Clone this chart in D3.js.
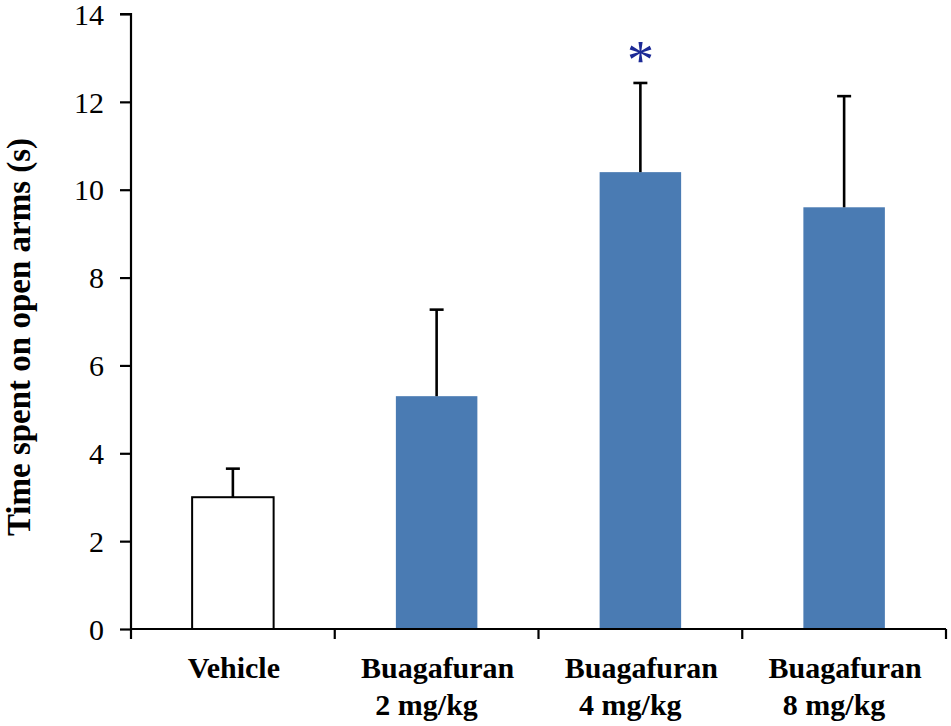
<!DOCTYPE html>
<html>
<head>
<meta charset="utf-8">
<script src="https://cdn.jsdelivr.net/npm/d3@7.9.0/dist/d3.min.js"></script>
<style>
  body { margin: 0; background: #fff; }
  svg { display: block; }
  text { font-family: "Liberation Serif", "Times New Roman", serif; fill: #000; }
</style>
</head>
<body>
<svg width="951" height="726"></svg>
<script>
// data
const groups = ["Vehicle", "Buagafuran 2 mg/kg", "Buagafuran 4 mg/kg", "Buagafuran 8 mg/kg"];
const labelLine1 = ["Vehicle", "Buagafuran", "Buagafuran", "Buagafuran"];
const labelLine2 = ["", "2 mg/kg", "4 mg/kg", "8 mg/kg"];
const means = [3.0, 5.3, 10.4, 9.6];
const errors = [0.65, 1.97, 2.03, 2.53];
const barFills = ["#ffffff", "#4a7bb3", "#4a7bb3", "#4a7bb3"];
const significant = [false, false, true, false];
const yTicks = [0, 2, 4, 6, 8, 10, 12, 14];

const svg = d3.select("svg");

const x = d3.scaleBand().domain(groups).range([131, 946]);
const y = d3.scaleLinear().domain([0, 14]).range([629, 14]);
const barW = x.bandwidth() * 0.4;

// bars
svg.append("g").selectAll("rect")
  .data(groups)
  .join("rect")
  .attr("x", d => x(d) + x.bandwidth() / 2 - barW / 2)
  .attr("y", (d, i) => y(means[i]))
  .attr("width", barW)
  .attr("height", (d, i) => y(0) - y(means[i]))
  .attr("fill", (d, i) => barFills[i])
  .attr("stroke", (d, i) => i === 0 ? "#000" : "none")
  .attr("stroke-width", 2);

// error bars (upper only)
const err = svg.append("g").attr("stroke", "#000").attr("stroke-width", 2.6);
groups.forEach((g, i) => {
  const cx = x(g) + x.bandwidth() / 2;
  err.append("line")
    .attr("x1", cx).attr("x2", cx)
    .attr("y1", y(means[i])).attr("y2", y(means[i] + errors[i]));
  err.append("line")
    .attr("x1", cx - 7).attr("x2", cx + 7)
    .attr("y1", y(means[i] + errors[i])).attr("y2", y(means[i] + errors[i]));
});

// significance star
svg.append("g").selectAll("text")
  .data(groups.filter((g, i) => significant[i]))
  .join("text")
  .attr("x", d => x(d) + x.bandwidth() / 2)
  .attr("y", d => y(means[groups.indexOf(d)] + errors[groups.indexOf(d)]) - 5)
  .attr("text-anchor", "middle")
  .style("font-size", "54px")
  .style("fill", "#1c2a96")
  .text("*");

// y axis
const yAxis = svg.append("g")
  .attr("transform", "translate(131,0)")
  .call(d3.axisLeft(y).tickValues(yTicks).tickSize(11).tickPadding(16));
yAxis.selectAll("text").style("font-size", "30px").attr("dy", "0.34em");
yAxis.selectAll("path, line").attr("stroke", "#000").attr("stroke-width", 2.2);
yAxis.select(".domain").attr("d", "M0,629V14H-11");

// x axis line with boundary ticks
const xAxis = svg.append("g");
xAxis.append("line")
  .attr("x1", 131).attr("x2", 946)
  .attr("y1", y(0)).attr("y2", y(0))
  .attr("stroke", "#000").attr("stroke-width", 2.2);
groups.forEach(g => {
  const bx = x(g) + x.bandwidth();
  xAxis.append("line")
    .attr("x1", bx).attr("x2", bx)
    .attr("y1", y(0)).attr("y2", y(0) + 10)
    .attr("stroke", "#000").attr("stroke-width", 2.2);
});
xAxis.append("line")
  .attr("x1", 131).attr("x2", 131)
  .attr("y1", y(0)).attr("y2", y(0) + 10)
  .attr("stroke", "#000").attr("stroke-width", 2.2);

// category labels
const lab = svg.append("g").style("font-weight", "bold").style("font-size", "30px");
groups.forEach((g, i) => {
  const cx = x(g) + x.bandwidth() / 2;
  lab.append("text").attr("x", cx + 1).attr("y", 678)
    .attr("text-anchor", "middle").text(labelLine1[i]);
  if (labelLine2[i]) {
    lab.append("text").attr("x", cx - 10).attr("y", 715)
      .attr("text-anchor", "middle").text(labelLine2[i]);
  }
});

// y axis title
svg.append("text")
  .attr("transform", "translate(30,337) rotate(-90)")
  .attr("text-anchor", "middle")
  .style("font-weight", "bold")
  .style("font-size", "33px")
  .text("Time spent on open arms (s)");
</script>
</body>
</html>
